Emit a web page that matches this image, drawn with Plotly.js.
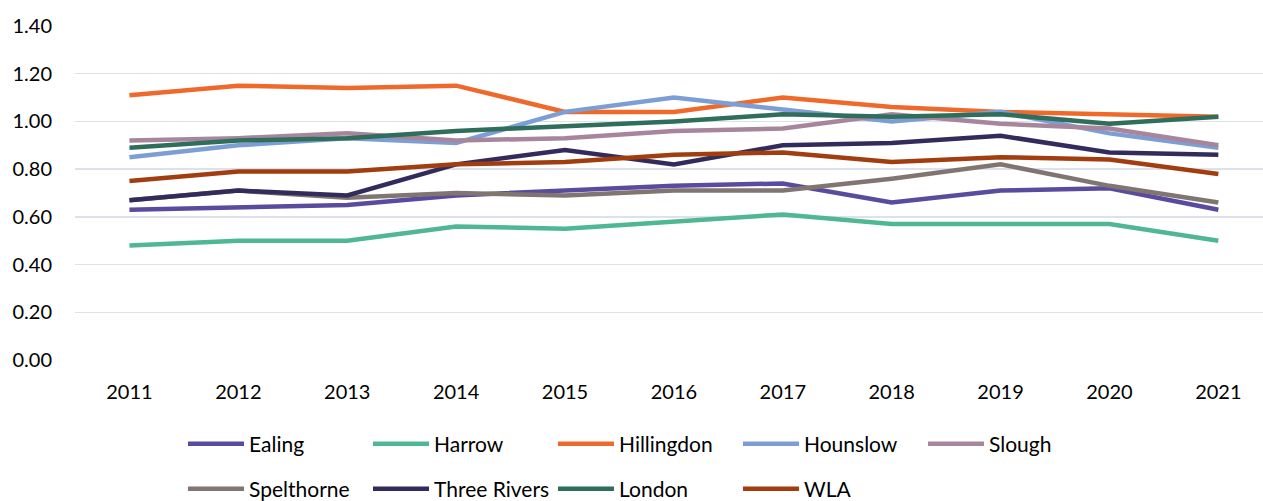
<!DOCTYPE html>
<html>
<head>
<meta charset="utf-8">
<script src="https://cdn.plot.ly/plotly-3.0.1.min.js"></script>
<style>
  html, body { margin: 0; padding: 0; background: #ffffff; }
  #chart { width: 1263px; height: 501px; }
</style>
</head>
<body>
<div id="chart"></div>
<script>
// Years on the category axis
const years = ['2011', '2012', '2013', '2014', '2015', '2016', '2017', '2018', '2019', '2020', '2021'];

// Ratio per area, 2011–2021
const ealing      = [0.63, 0.64, 0.65, 0.69, 0.71, 0.73, 0.74, 0.66, 0.71, 0.72, 0.63];
const harrow      = [0.48, 0.50, 0.50, 0.56, 0.55, 0.58, 0.61, 0.57, 0.57, 0.57, 0.50];
const hillingdon  = [1.11, 1.15, 1.14, 1.15, 1.04, 1.04, 1.10, 1.06, 1.04, 1.03, 1.02];
const hounslow    = [0.85, 0.90, 0.93, 0.91, 1.04, 1.10, 1.05, 1.00, 1.04, 0.95, 0.89];
const slough      = [0.92, 0.93, 0.95, 0.92, 0.93, 0.96, 0.97, 1.03, 0.99, 0.97, 0.90];
const spelthorne  = [0.67, 0.71, 0.68, 0.70, 0.69, 0.71, 0.71, 0.76, 0.82, 0.73, 0.66];
const threeRivers = [0.67, 0.71, 0.69, 0.82, 0.88, 0.82, 0.90, 0.91, 0.94, 0.87, 0.86];
const london      = [0.89, 0.92, 0.93, 0.96, 0.98, 1.00, 1.03, 1.02, 1.03, 0.99, 1.02];
const wla         = [0.75, 0.79, 0.79, 0.82, 0.83, 0.86, 0.87, 0.83, 0.85, 0.84, 0.78];

const yTicks = [0, 0.2, 0.4, 0.6, 0.8, 1.0, 1.2, 1.4];

const series = [
  { name: 'Ealing',       y: ealing,      color: '#5a4b9f', legend: 'legend'  },
  { name: 'Harrow',       y: harrow,      color: '#50b795', legend: 'legend'  },
  { name: 'Hillingdon',   y: hillingdon,  color: '#ef692b', legend: 'legend'  },
  { name: 'Hounslow',     y: hounslow,    color: '#7d9ed5', legend: 'legend'  },
  { name: 'Slough',       y: slough,      color: '#a7869d', legend: 'legend'  },
  { name: 'Spelthorne',   y: spelthorne,  color: '#807571', legend: 'legend2' },
  { name: 'Three Rivers', y: threeRivers, color: '#332b5c', legend: 'legend2' },
  { name: 'London',       y: london,      color: '#2f6e5a', legend: 'legend2' },
  { name: 'WLA',          y: wla,         color: '#a23d10', legend: 'legend2' }
];

const traces = series.map(s => ({
  type: 'scatter',
  mode: 'lines',
  name: s.name,
  x: years,
  y: s.y,
  legend: s.legend,
  line: { color: s.color, width: 4.5 },
  hoverinfo: 'x+y+name'
}));

const fontFamily = 'Lato, "Open Sans", sans-serif';

// Two single-row legends, one per line of entries
const legendBase = {
  orientation: 'h',
  xref: 'container',
  yref: 'container',
  xanchor: 'left',
  yanchor: 'middle',
  x: 183 / 1263,
  entrywidth: 114,
  entrywidthmode: 'pixels',
  itemwidth: 56,
  bgcolor: 'rgba(0,0,0,0)',
  borderwidth: 0,
  font: { family: fontFamily, size: 21, color: '#000000' },
  traceorder: 'normal'
};

const layout = {
  width: 1263,
  height: 501,
  margin: { l: 75, r: 0, t: 26, b: 141 },
  paper_bgcolor: '#ffffff',
  plot_bgcolor: '#ffffff',
  font: { family: fontFamily, size: 20, color: '#000000' },
  showlegend: true,
  xaxis: {
    type: 'category',
    range: [-0.5, 10.41],
    showgrid: false,
    showline: false,
    zeroline: false,
    ticks: '',
    ticklabelstandoff: 18,
    tickfont: { family: fontFamily, size: 20, color: '#000000' },
    fixedrange: true
  },
  yaxis: {
    range: [0, 1.4],
    tickvals: yTicks,
    tickformat: '.2f',
    showgrid: true,
    gridcolor: '#dde1ea',
    gridwidth: 1.5,
    zeroline: false,
    showline: false,
    ticks: '',
    ticklabelstandoff: 22,
    tickfont: { family: fontFamily, size: 20, color: '#000000' },
    fixedrange: true
  },
  legend: Object.assign({}, legendBase, { y: 1 - 444 / 501 }),
  legend2: Object.assign({}, legendBase, { y: 1 - 489 / 501 })
};

Plotly.newPlot('chart', traces, layout, { displayModeBar: false, staticPlot: true });
</script>
</body>
</html>
